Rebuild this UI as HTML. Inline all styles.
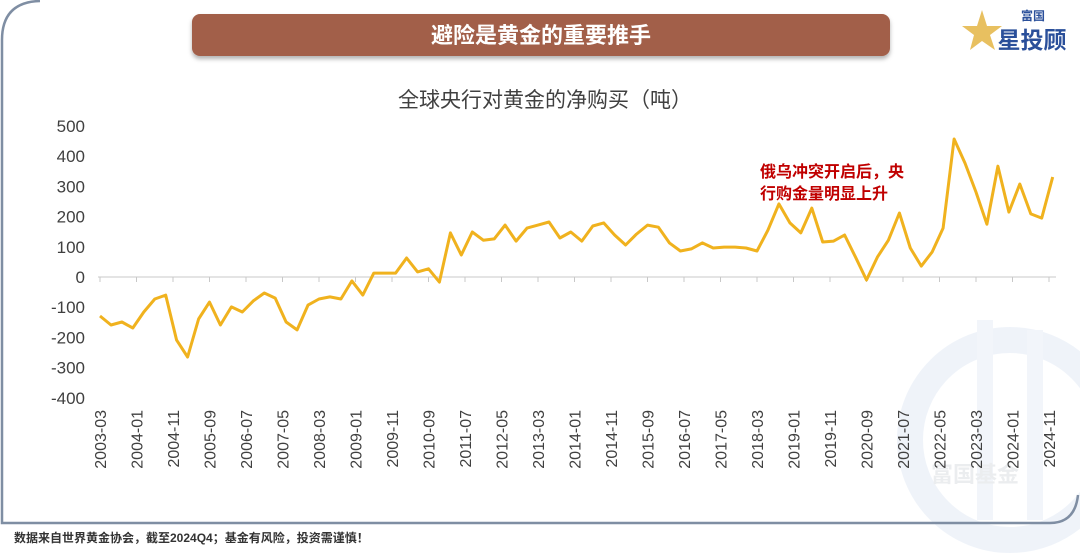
<!DOCTYPE html>
<html><head><meta charset="utf-8">
<style>
html,body{margin:0;padding:0;background:#fff;}
body{width:1080px;height:559px;overflow:hidden;position:relative;font-family:"Liberation Sans","Noto Sans CJK SC",sans-serif;}
svg{position:absolute;left:0;top:0;}
</style></head>
<body>
<svg id="chart" width="1080" height="559" viewBox="0 0 1080 559">
  <g opacity="0.35">
    <circle cx="1010" cy="440" r="100" fill="none" stroke="#d3dff0" stroke-width="26"/>
    <path d="M985 320 L985 520 M1035 330 L1035 520" stroke="#dbe5f3" stroke-width="16"/>
    <text x="975" y="482" font-size="22" font-weight="bold" fill="#c8ccd2" text-anchor="middle">富国基金</text>
  </g>
  <path d="M2 40 Q2 2 40 1 M2 40 L2 523 L1050 523 Q1075 523 1078 495" fill="none" stroke="#7f8ea3" stroke-width="2.5"/>
  <defs>
    <filter id="sh" x="-5%" y="-20%" width="110%" height="160%"><feDropShadow dx="0" dy="3" stdDeviation="2" flood-color="#000" flood-opacity="0.3"/></filter>
  </defs>
  <rect x="192" y="14" width="698" height="42" rx="8" fill="#a25e48" filter="url(#sh)"/>
  <text x="541" y="43" font-size="22" font-weight="bold" fill="#fff" text-anchor="middle">避险是黄金的重要推手</text>
  <g>
    <polygon points="982,10 987,26 1002,26 990,35 995,50 982,41 970,50 974,35 962,26 977,26" fill="#e8c060"/>
    <text x="1033" y="20" font-size="12" font-weight="bold" fill="#2a4f9a" text-anchor="middle">富国</text>
    <text x="1032" y="48" font-size="23" font-weight="bold" fill="#2a4f9a" text-anchor="middle">星投顾</text>
  </g>
  <text x="545" y="107" font-size="21" fill="#404040" text-anchor="middle">全球央行对黄金的净购买（吨）</text>
  <g id="yaxis"></g>
  <g id="xaxis"></g>
  <g id="series"></g>
  <text x="760" y="177" font-size="16" font-weight="bold" fill="#c00000">俄乌冲突开启后，央</text>
  <text x="760" y="199" font-size="16" font-weight="bold" fill="#c00000">行购金量明显上升</text>
  <text x="14" y="542" font-size="12" font-weight="bold" fill="#333">数据来自世界黄金协会，截至2024Q4；基金有风险，投资需谨慎！</text>
</svg>
<script>
const yTicks = [500,400,300,200,100,0,-100,-200,-300,-400];
const xTickLabels = ["2003-03","2004-01","2004-11","2005-09","2006-07","2007-05","2008-03","2009-01","2009-11","2010-09","2011-07","2012-05","2013-03","2014-01","2014-11","2015-09","2016-07","2017-05","2018-03","2019-01","2019-11","2020-09","2021-07","2022-05","2023-03","2024-01","2024-11"];
const netPurchases = [-129,-159,-149,-169,-116,-73,-60,-209,-265,-139,-83,-159,-99,-116,-79,-53,-70,-149,-175,-93,-73,-66,-73,-13,-60,13,13,13,63,17,27,-17,
146,73,149,122,126,172,119,162,172,182,129,149,119,169,179,139,106,142,172,165,113,86,93,113,96,99,99,96,86,
155,242,179,146,228,116,119,139,66,-10,66,122,212,96,36,83,162,457,377,281,175,367,215,308,209,195,331];
const startYear = 2003, startMonth = 3;
const ns = "http://www.w3.org/2000/svg";
const x0 = 100, pxPerMonth = 10.95/3;
function monthIndex(label){const [y,m]=label.split("-").map(Number);return (y-startYear)*12+(m-startMonth);}
function xScale(mi){return x0 + mi*pxPerMonth;}
function yScale(v){return 277 - v*0.302;}
const yg=document.getElementById("yaxis");
yTicks.forEach(v=>{
  const t=document.createElementNS(ns,"text");
  
  
  t.setAttribute("x",85);t.setAttribute("y",yScale(v)+6);
  t.setAttribute("text-anchor","end");t.setAttribute("font-size","17");t.setAttribute("fill","#404040");
  t.textContent=v;yg.appendChild(t);
});
const xg=document.getElementById("xaxis");
const ax=document.createElementNS(ns,"line");


ax.setAttribute("x1",x0-2);ax.setAttribute("x2",1056);ax.setAttribute("y1",yScale(0));ax.setAttribute("y2",yScale(0));
ax.setAttribute("stroke","#c8c8c8");ax.setAttribute("stroke-width","1");xg.appendChild(ax);
xTickLabels.forEach(l=>{
  const x=xScale(monthIndex(l));
  const tk=document.createElementNS(ns,"line");
  
  
  tk.setAttribute("x1",x);tk.setAttribute("x2",x);tk.setAttribute("y1",yScale(0));tk.setAttribute("y2",yScale(0)+5);
  tk.setAttribute("stroke","#c8c8c8");xg.appendChild(tk);
  const t=document.createElementNS(ns,"text");
  
  
  t.setAttribute("transform",`translate(${x+6},410) rotate(-90)`);
  t.setAttribute("text-anchor","end");t.setAttribute("font-size","16");t.setAttribute("fill","#404040");
  t.textContent=l;xg.appendChild(t);
});
const pts=netPurchases.map((v,i)=>xScale(i*3).toFixed(1)+","+yScale(v).toFixed(1)).join(" ");
const pl=document.createElementNS(ns,"polyline");


pl.setAttribute("points",pts);pl.setAttribute("fill","none");pl.setAttribute("stroke","#f0b21e");
pl.setAttribute("stroke-width","3");pl.setAttribute("stroke-linejoin","round");
document.getElementById("series").appendChild(pl);
</script>
</body></html>
